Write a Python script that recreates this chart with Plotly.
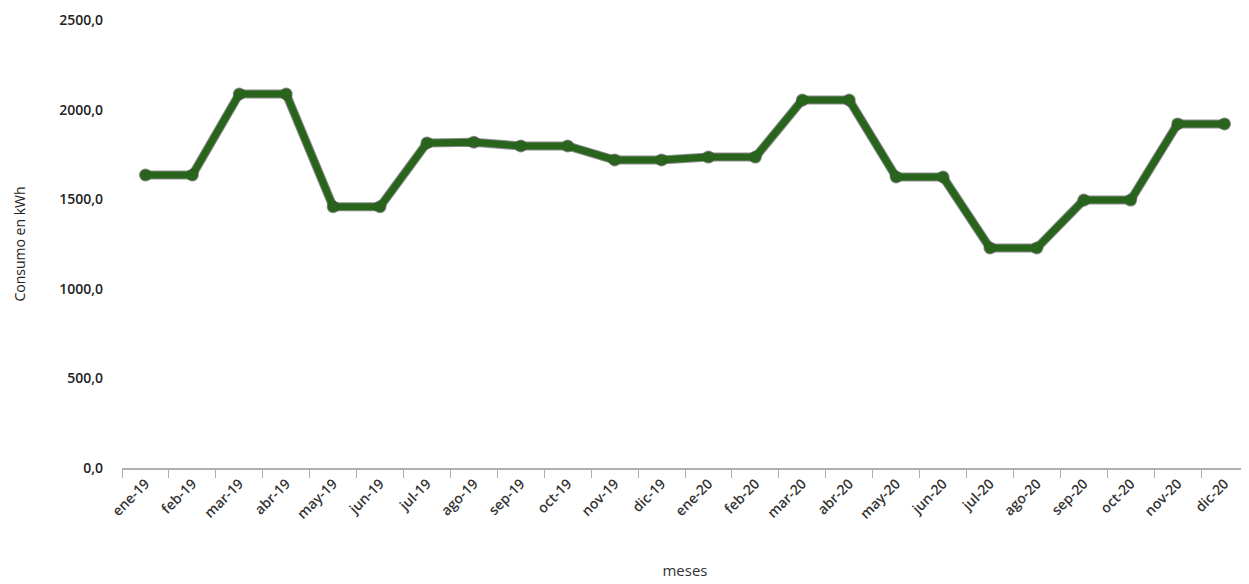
import plotly.graph_objects as go

meses = ["ene-19", "feb-19", "mar-19", "abr-19", "may-19", "jun-19", "jul-19", "ago-19",
         "sep-19", "oct-19", "nov-19", "dic-19", "ene-20", "feb-20", "mar-20", "abr-20",
         "may-20", "jun-20", "jul-20", "ago-20", "sep-20", "oct-20", "nov-20", "dic-20"]
consumo = [1635, 1635, 2087, 2087, 1458, 1458, 1814, 1818, 1797, 1797, 1719, 1719,
           1735, 1735, 2053, 2053, 1624, 1624, 1228, 1228, 1495, 1495, 1920, 1920]
y_ticks = [0, 500, 1000, 1500, 2000, 2500]

fig = go.Figure()
# shadow underlay
fig.add_trace(go.Scatter(
    x=meses, y=consumo, mode="lines+markers",
    line=dict(color="rgba(0,0,0,0.45)", width=9),
    marker=dict(size=13, color="rgba(0,0,0,0.45)"),
    hoverinfo="skip", showlegend=False))
fig.add_trace(go.Scatter(
    x=meses, y=consumo, mode="lines+markers",
    line=dict(color="#28641b", width=7),
    marker=dict(size=11, color="#28641b"),
    showlegend=False))

fig.update_layout(
    width=1241, height=576,
    margin=dict(l=114, r=1, t=12, b=116),
    paper_bgcolor="white", plot_bgcolor="white",
    separators=",.",
    font=dict(family="Open Sans", color="#222"),
    xaxis=dict(
        type="category", range=[-0.5, 23.5],
        tickson="boundaries", ticks="outside", ticklen=8, tickcolor="#b0b0b0",
        showline=True, linecolor="#b0b0b0", linewidth=2,
        showgrid=False, tickangle=-45,
        tickfont=dict(size=14, color="#333", weight=600),
        title=dict(text="meses", font=dict(size=15, color="#333"), standoff=44),
    ),
    yaxis=dict(
        range=[0, 2500], tickvals=y_ticks, tickformat=".1f",
        showgrid=False, zeroline=False, showline=False,
        tickfont=dict(size=14, color="#222", weight=600),
        ticks="", ticklen=0, ticklabelstandoff=18,
        title=dict(text="Consumo en kWh", font=dict(size=14, color="#222"), standoff=30),
    ),
)

fig.write_html("out.html")
